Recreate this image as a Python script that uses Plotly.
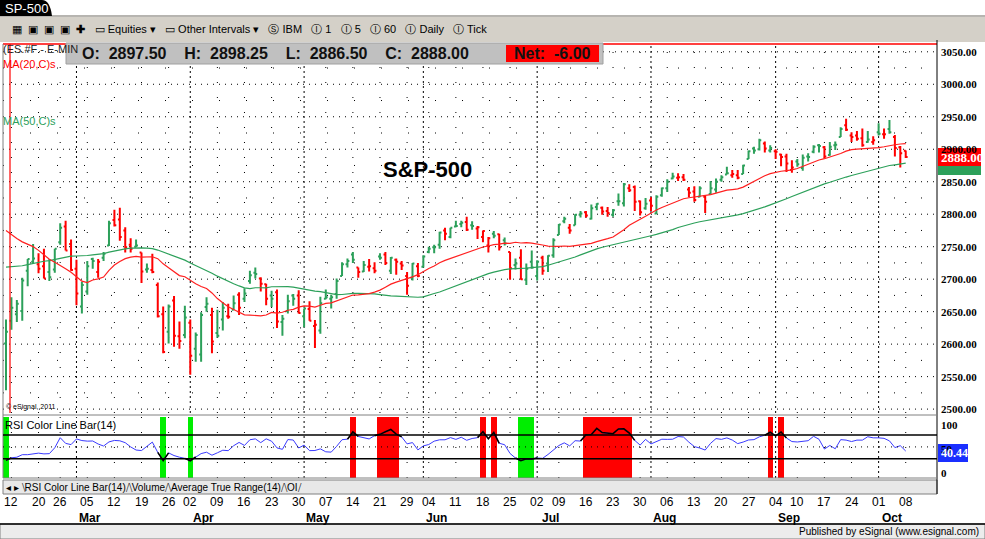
import numpy as np
import pandas as pd
import plotly.graph_objects as go

W, H = 985, 539

# ---- data ----
pre_closes = [2582,2599,2597,2602,2601,2627,2626,2647,
 2642,2639,2629,2629,2636,2651,2659,2664,2662,2652,2675,2690,2681,2679,2684,2683,2680,2682,2687,2673,
 2695,2713,2723,2743,2747,2751,2748,2767,2786,2776,2802,2798,2810,2832,2839,2837,2839,2872,2853,2822,2823,
 2821,2762,2648,2695,2681,2581]

ohlc_rows = [
(2601,2638,2529,2619),(2636,2672,2622,2656),(2646,2668,2634,2662),(2651,2702,2636,2698),(2713,2731,2689,2731),
(2727,2754,2725,2732),(2723,2740,2709,2716),(2720,2747,2701,2701),(2711,2731,2697,2703),(2715,2747,2710,2747),
(2757,2786,2753,2779),(2781,2790,2744,2744),(2754,2761,2713,2714),(2716,2730,2660,2678),(2658,2696,2647,2691),
(2681,2728,2676,2720),(2731,2733,2716,2728),(2711,2731,2702,2727),(2733,2742,2728,2739),(2752,2790,2751,2786),
(2791,2807,2781,2783),(2792,2810,2759,2765),(2775,2780,2741,2749),(2753,2763,2741,2747),(2750,2761,2749,2752),
(2741,2741,2694,2712),(2715,2724,2710,2716),(2714,2739,2709,2711),(2691,2695,2641,2643),(2646,2658,2586,2588),
(2619,2661,2601,2658),(2667,2674,2596,2613),(2612,2635,2593,2605),(2614,2659,2609,2641),
(2633,2638,2553,2582),(2593,2618,2573,2614),(2584,2649,2573,2645),(2657,2672,2650,2662),(2645,2656,2586,2604),
(2617,2653,2610,2613),(2638,2665,2621,2656),(2643,2662,2639,2642),(2653,2675,2652,2663),(2676,2680,2645,2656),
(2670,2686,2665,2678),(2697,2713,2693,2706),(2710,2718,2701,2708),(2701,2703,2681,2693),(2692,2693,2660,2670),
(2675,2682,2657,2670),(2680,2684,2625,2635),(2634,2645,2613,2639),(2651,2676,2647,2666),(2675,2677,2659,2670),
(2675,2683,2647,2648),(2643,2655,2626,2655),(2654,2666,2636,2636),(2628,2637,2594,2630),(2621,2673,2616,2663),
(2670,2684,2669,2672),(2670,2676,2655,2672),(2677,2701,2670,2697),(2705,2726,2705,2723),(2723,2732,2718,2728),
(2738,2742,2725,2730),(2718,2718,2702,2711),(2712,2728,2711,2722),(2719,2731,2712,2720),(2717,2726,2709,2713),
(2735,2740,2730,2733),(2738,2742,2722,2725),(2713,2734,2708,2733),(2730,2732,2707,2727),(2724,2728,2714,2721),
(2705,2711,2676,2690),(2702,2725,2698,2724),(2720,2725,2703,2705),(2719,2737,2718,2735),
(2742,2750,2740,2747),(2749,2753,2740,2749),(2753,2773,2747,2772),(2775,2779,2760,2770),(2765,2779,2763,2779),
(2781,2790,2780,2782),(2785,2790,2780,2787),(2788,2796,2774,2776),(2783,2789,2776,2782),(2778,2782,2762,2780),
(2765,2775,2757,2774),(2752,2765,2741,2763),(2770,2774,2763,2767),(2769,2770,2744,2749),(2760,2764,2752,2755),
(2742,2742,2699,2717),(2722,2732,2715,2724),(2733,2746,2699,2700),(2699,2724,2691,2716),(2727,2744,2716,2718),
(2705,2729,2698,2727),(2733,2736,2707,2713),(2724,2737,2711,2736),(2737,2763,2733,2760),
(2768,2785,2768,2784),(2789,2796,2786,2793),(2779,2785,2770,2775),(2783,2800,2783,2799),(2799,2805,2795,2801),
(2803,2805,2795,2798),(2793,2815,2792,2809),(2811,2817,2806,2816),(2810,2812,2799,2804),(2805,2811,2796,2802),
(2799,2808,2796,2806),(2820,2832,2813,2820),(2817,2848,2812,2846),(2840,2846,2834,2837),(2842,2844,2805,2819),
(2820,2821,2798,2803),(2809,2825,2807,2816),(2821,2826,2805,2813),(2801,2829,2800,2827),(2829,2841,2827,2840),
(2840,2854,2834,2850),(2855,2864,2854,2858),(2856,2863,2851,2857),(2857,2862,2851,2853),(2838,2842,2826,2833),
(2835,2843,2819,2822),(2827,2843,2826,2840),(2827,2828,2802,2819),(2831,2851,2831,2840),(2838,2855,2833,2850),
(2853,2860,2850,2857),(2861,2873,2861,2863),(2860,2868,2856,2862),(2860,2868,2854,2856),(2862,2876,2862,2875),
(2885,2898,2885,2897),(2901,2904,2893,2898),(2900,2916,2898,2914),(2909,2912,2895,2901),(2898,2906,2895,2902),
(2897,2900,2885,2896),(2892,2893,2874,2888),(2889,2893,2865,2878),(2868,2883,2864,2872),
(2881,2885,2873,2877),(2871,2892,2867,2887),(2889,2894,2881,2888),(2896,2906,2894,2904),(2906,2908,2895,2905),
(2903,2905,2886,2889),(2891,2911,2890,2904),(2906,2912,2899,2907),(2919,2934,2919,2931),(2937,2947,2928,2930),
(2921,2926,2911,2919),(2921,2928,2913,2916),(2917,2932,2904,2906),(2911,2928,2910,2915),(2911,2920,2907,2914),
(2926,2940,2921,2924),(2923,2932,2916,2923),(2931,2945,2924,2926),(2919,2922,2889,2902),(2903,2905,2872,2894),
(2897.5,2898.25,2886.5,2888.0)]
opens = [r[0] for r in ohlc_rows]
highs = [r[1] for r in ohlc_rows]
lows = [r[2] for r in ohlc_rows]
closes = [r[3] for r in ohlc_rows]

holidays = ["2018-02-19", "2018-03-30", "2018-05-28", "2018-07-04", "2018-09-03"]
dates = [d for d in pd.bdate_range("2018-02-09", "2018-10-08") if d.strftime("%Y-%m-%d") not in holidays]
n = len(closes)
dates = dates[:n]
x = np.arange(n)

price_ticks = [2500, 2550, 2600, 2650, 2700, 2750, 2800, 2850, 2900, 2950, 3000, 3050]
rsi_ticks = [0, 50, 100]
rsi_label_value = "40.44"
net_change = -6.00

# ---- indicators ----
allc = pd.Series(pre_closes + closes, dtype=float)
ma20 = allc.rolling(20).mean().values[len(pre_closes):]
ma50 = allc.rolling(50).mean().values[len(pre_closes):]
d = allc.diff()
up = d.clip(lower=0).rolling(14).mean()
dn = (-d.clip(upper=0)).rolling(14).mean()
rsi = (100 - 100 / (1 + up / dn)).values[len(pre_closes):]

# ---- layout helpers ----
def px(v): return v / W
def py(v): return 1 - v / H

X0, X1 = 3, 937
slot = 5.42
xr = [(X0 - 6) / slot, (X1 - 6) / slot]
ydom_main = [py(413), py(44)]
ydom_rsi = [py(478), py(417)]
rsi_range = [-2.5, 100.5]

fig = go.Figure()

prev = [pre_closes[-1]] + closes[:-1]
upm = [c >= p for c, p in zip(closes, prev)]
for mask, col in [(upm, "#2ca05a"), ([not u for u in upm], "#ff0000")]:
    idx = [i for i in range(n) if mask[i]]
    fig.add_trace(go.Ohlc(x=[x[i] for i in idx], open=[opens[i] for i in idx], high=[highs[i] for i in idx],
                          low=[lows[i] for i in idx], close=[closes[i] for i in idx],
                          increasing=dict(line=dict(color=col, width=2)),
                          decreasing=dict(line=dict(color=col, width=2)),
                          tickwidth=0.35, showlegend=False, hoverinfo="skip", xaxis="x", yaxis="y"))
fig.add_trace(go.Scatter(x=x, y=ma50, mode="lines", line=dict(color="#2ca05a", width=1.2), xaxis="x", yaxis="y", showlegend=False))
fig.add_trace(go.Scatter(x=x, y=ma20, mode="lines", line=dict(color="#ff2020", width=1.2), xaxis="x", yaxis="y", showlegend=False))

zcol = ["#ff0000" if r > 70 else ("#00ee00" if r < 30 else "rgba(0,0,0,0)") for r in rsi]
fig.add_trace(go.Bar(x=x, y=[rsi_range[1] - rsi_range[0]] * n, base=rsi_range[0], width=1.0,
                     marker=dict(color=zcol, line=dict(width=0)),
                     xaxis="x2", yaxis="y2", showlegend=False, hoverinfo="skip"))
fig.add_trace(go.Scatter(x=x, y=rsi, mode="lines", line=dict(color="#3a3aff", width=1), xaxis="x2", yaxis="y2", showlegend=False))
ext = np.array([r if (r > 70 or r < 30) else np.nan for r in rsi])
ext2 = ext.copy()
for i in range(n):
    if np.isnan(ext[i]) and ((i > 0 and not np.isnan(ext[i-1])) or (i < n-1 and not np.isnan(ext[i+1]))):
        ext2[i] = rsi[i]
fig.add_trace(go.Scatter(x=x, y=ext2, mode="lines", line=dict(color="black", width=1.6), xaxis="x2", yaxis="y2", showlegend=False, connectgaps=False))

shapes = []
shapes.append(dict(type="rect", xref="paper", yref="paper", x0=0, x1=1, y0=py(42), y1=py(15), fillcolor="#d4d0c8", line=dict(width=0), layer="below"))
shapes.append(dict(type="line", xref="paper", yref="paper", x0=0, x1=1, y0=py(16), y1=py(16), line=dict(color="#999", width=1)))
shapes.append(dict(type="path", xref="paper", yref="paper",
                   path=f"M 0 {py(16)} L 0 1 L {px(42)} 1 Q {px(50)} 1 {px(52)} {py(16)} Z", fillcolor="black", line=dict(width=0)))
shapes.append(dict(type="rect", xref="paper", yref="paper", x0=0, x1=1, y0=0, y1=py(524), fillcolor="#ececec", line=dict(color="#808080", width=1), layer="below"))
shapes.append(dict(type="line", xref="paper", yref="paper", x0=0, x1=1, y0=py(524), y1=py(524), line=dict(color="black", width=1.5)))
shapes.append(dict(type="rect", xref="paper", yref="paper", x0=px(X0), x1=px(X1), y0=py(494), y1=py(480), fillcolor="#e8e8e8", line=dict(color="#808080", width=1), layer="below"))
shapes.append(dict(type="line", xref="paper", yref="paper", x0=px(X0), x1=px(X1), y0=py(44), y1=py(44), line=dict(color="red", width=1.5)))
shapes.append(dict(type="line", xref="paper", yref="paper", x0=px(X1), x1=px(X1), y0=py(494), y1=py(40), line=dict(color="black", width=1)))
shapes.append(dict(type="line", xref="paper", yref="paper", x0=px(X0), x1=px(X0), y0=py(478), y1=py(44), line=dict(color="#808080", width=1)))
shapes.append(dict(type="line", xref="paper", yref="paper", x0=px(X0), x1=px(X1), y0=py(415), y1=py(415), line=dict(color="#808080", width=1)))
shapes.append(dict(type="line", xref="paper", yref="paper", x0=px(X0), x1=px(X1), y0=py(478), y1=py(478), line=dict(color="#808080", width=1)))
shapes.append(dict(type="line", xref="paper", yref="paper", x0=px(10), x1=px(10), y0=py(413), y1=py(44), line=dict(color="red", width=1.2)))
for t in price_ticks:
    shapes.append(dict(type="line", xref="paper", yref="y", x0=px(X0), x1=px(X1), y0=t, y1=t, line=dict(color="black", width=1, dash="1px,5px"), layer="below"))
    shapes.append(dict(type="line", xref="paper", yref="y", x0=px(X0), x1=px(X1), y0=t + 25, y1=t + 25, line=dict(color="black", width=1, dash="1px,26px"), layer="below"))
for lv, dsh, wd in [(70, "solid", 1.5), (30, "solid", 1.5), (50, "1px,5px", 1)]:
    shapes.append(dict(type="line", xref="paper", yref="y2", x0=px(X0), x1=px(X1), y0=lv, y1=lv, line=dict(color="black", width=wd, dash=dsh)))

week_first = [i for i in range(1, n) if dates[i].isocalendar()[1] != dates[i-1].isocalendar()[1]]
month_first = [i for i in range(1, n) if dates[i].month != dates[i-1].month]
ann = []
for i in week_first:
    ann.append(dict(x=i, y=py(502), xref="x2", yref="paper", yanchor="middle", text=dates[i].strftime("%d"), showarrow=False,
                    font=dict(family="Liberation Sans", size=12, color="black")))
for i in month_first:
    for ax, yd in [("x", [py(413), py(44)]), ("x2", [py(478), py(417)])]:
        shapes.append(dict(type="line", xref=ax, yref="paper", x0=i, x1=i, y0=yd[0], y1=yd[1], line=dict(color="black", width=1, dash="2px,3px"), layer="below"))
    ann.append(dict(x=i + 2.5, y=py(518), xref="x2", yref="paper", yanchor="middle", text="<b>" + dates[i].strftime("%b") + "</b>", showarrow=False,
                    font=dict(family="Liberation Sans", size=12, color="black")))
for i in week_first:
    if i not in month_first:
        for ax, yd in [("x", [py(413), py(44)]), ("x2", [py(478), py(417)])]:
            shapes.append(dict(type="line", xref=ax, yref="paper", x0=i, x1=i, y0=yd[0], y1=yd[1], line=dict(color="black", width=1, dash="1px,14px"), layer="below"))

def txt(xp, yp, s, size=12, color="black", anchor="left", family="Arial", bold=False):
    ann.append(dict(x=px(xp), y=py(yp), xref="paper", yref="paper", text=f"<b>{s}</b>" if bold else s, showarrow=False,
                    xanchor=anchor, yanchor="middle", font=dict(family=family, size=size, color=color)))

txt(3, 8, "SP-500", 13, "white")
txt(10, 29, "▦  ▣  ▣  ▣  <b>✚</b>   ▭ Equities ▾   ▭ Other Intervals ▾   Ⓢ IBM   Ⓘ 1   Ⓘ 5   Ⓘ 60   Ⓘ Daily   Ⓘ Tick", 11, "black")
shapes.append(dict(type="rect", xref="paper", yref="paper", x0=px(66), x1=px(603), y0=py(64), y1=py(43), fillcolor="#c0c0c0", line=dict(color="#a0a0a0", width=1)))
shapes.append(dict(type="rect", xref="paper", yref="paper", x0=px(506), x1=px(599), y0=py(62), y1=py(45), fillcolor="#ff0000", line=dict(width=0)))
txt(80, 54, f"O:  {opens[-1]:.2f}    H:  {highs[-1]:.2f}    L:  {lows[-1]:.2f}    C:  {closes[-1]:.2f}", 16, "#111", bold=True)
txt(512, 54, f"Net:  {net_change:.2f}", 16, "#111", bold=True)
txt(1, 49, "(ES.#F - E-MIN", 11, "#222")
txt(1, 64, "MA(20,C)s", 11, "red")
txt(1, 121, "MA(50,C)s", 11, "#2ca05a")
txt(427, 170, "S&P-500", 22, "black", anchor="center", bold=True)
txt(4, 407, "© eSignal, 2011", 7, "black")
txt(3, 425, "RSI Color Line Bar(14)", 11, "black")
txt(4, 487, "◂ ▸ ⧹RSI Color Line Bar(14)⧸⧹Volume⧸⧹Average True Range(14)⧸⧹OI⧸", 10, "black")
txt(981, 531, "Published by eSignal (www.esignal.com)", 10, "black", anchor="right")
for t in price_ticks:
    txt(939, 52 + (3050 - t) * 0.649, f"{t:.2f}", 11, "black", family="Liberation Sans Narrow", bold=True)
for v in rsi_ticks:
    txt(939, 480.6 - v * 0.6375 + (8 if v == 100 else 0) - (8 if v == 0 else 0), str(v), 11, "black", family="Liberation Sans Narrow", bold=True)
shapes.append(dict(type="rect", xref="paper", yref="paper", x0=px(938), x1=px(981), y0=py(166), y1=py(148), fillcolor="#ff0000", line=dict(width=0)))
shapes.append(dict(type="rect", xref="paper", yref="paper", x0=px(938), x1=px(981), y0=py(175), y1=py(166), fillcolor="#2ca05a", line=dict(width=0)))
txt(939, 157, f"{closes[-1]:.2f}", 13, "white", family="Liberation Sans Narrow", bold=True)
shapes.append(dict(type="rect", xref="paper", yref="paper", x0=px(938), x1=px(968), y0=py(462), y1=py(444), fillcolor="#1a2fff", line=dict(width=0)))
txt(939, 453, rsi_label_value, 12, "white", family="Liberation Sans Narrow", bold=True)

fig.update_layout(
    width=W, height=H, margin=dict(l=0, r=0, t=0, b=0), paper_bgcolor="white", plot_bgcolor="white",
    showlegend=False, shapes=shapes, annotations=ann, bargap=0,
    xaxis=dict(domain=[px(X0), px(X1)], range=xr, showgrid=False, showticklabels=False, zeroline=False, rangeslider=dict(visible=False), anchor="y"),
    yaxis=dict(domain=ydom_main, range=[2494, 3062], showgrid=False, showticklabels=False, zeroline=False),
    xaxis2=dict(domain=[px(X0), px(X1)], range=xr, showgrid=False, showticklabels=False, zeroline=False, anchor="y2"),
    yaxis2=dict(domain=ydom_rsi, range=rsi_range, showgrid=False, showticklabels=False, zeroline=False),
)
fig.write_html("out.html", config={"displayModeBar": False})
with open("out.html", encoding="utf-8") as f:
    html = f.read()
html = html.replace("<head>", "<head><style>html,body{margin:0;padding:0;overflow:hidden}</style>", 1)
with open("out.html", "w", encoding="utf-8") as f:
    f.write(html)
